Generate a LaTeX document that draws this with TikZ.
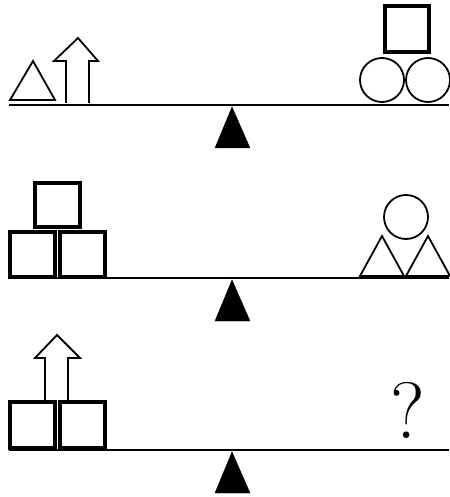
\documentclass[tikz,border=0pt]{standalone}
\usepackage{tikz}

\begin{document}
\begin{tikzpicture}[x=1pt,y=-1pt,line join=miter]
	\useasboundingbox (0,0) rectangle (449,497);
	% beams and fulcrums
	\foreach \b in {105,278,450} {
		\draw[line width=2.4] (9,\b) -- (449,\b);
		\draw[fill=black] (232,\b+2) -- (250,\b+43) -- (215,\b+43) -- cycle;
	}

	% scale 1, left
	\draw[line width=1.8] (10,100) -- (33,61) -- (55,100) -- cycle;
	\draw[line width=1.8] (66,103) -- (66,61) -- (54,61) -- (78,38) -- (98,61) -- (89,61) -- (89,103);
	% scale 1, right
	\draw[line width=3.2] (385,6) rectangle (429,52);
	\foreach \cx in {382,428}
		\draw[line width=1.8] (\cx,80) circle (22);

	% scale 2, left
	\foreach \sx in {10,60}
		\draw[line width=3.2] (\sx,232) rectangle ++(45,45);
	\draw[line width=3.2] (35,183) rectangle ++(45,44);
	% scale 2, right
	\draw[line width=1.8] (406,217) circle (22);
	\foreach \tx in {360,406}
		\draw[line width=1.8] (\tx,276) -- ++(22,-40) -- ++(22,40) -- cycle;

	% scale 3, left
	\foreach \sx in {10,60}
		\draw[line width=3.2] (\sx,402) rectangle ++(45,46);
	\draw[line width=1.8] (45,401) -- (45,358) -- (35,358) -- (57,335) -- (80,358) -- (68,358) -- (68,401);
	% scale 3, right
	\node[inner sep=0,font=\fontsize{80}{80}\selectfont] (ask) at (408,410) {?};
\end{tikzpicture}
\end{document}
